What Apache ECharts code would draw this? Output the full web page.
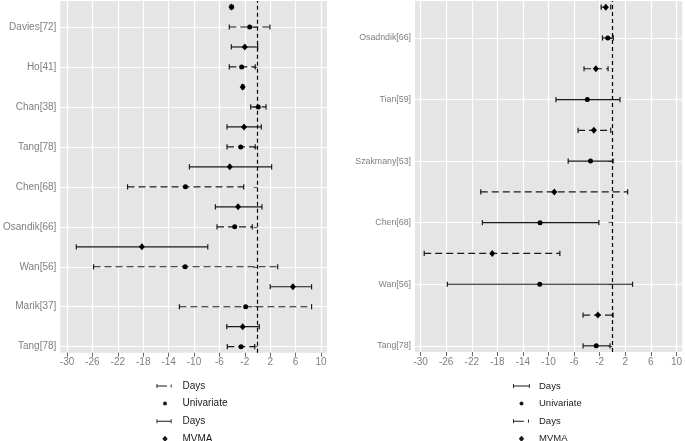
<!DOCTYPE html>
<html><head><meta charset="utf-8">
<script src="https://cdn.jsdelivr.net/npm/echarts@6/dist/echarts.min.js"></script>
<style>html,body{margin:0;padding:0;background:#fff}#c{width:685px;height:441px}</style>
</head><body><div id="c"></div>
<script>
// ---------- data ----------
const xTicks = [-30, -26, -22, -18, -14, -10, -6, -2, 2, 6, 10];

// left panel, rows listed top to bottom
const leftLabels = ['', 'Davies[72]', '', 'Ho[41]', '', 'Chan[38]', '', 'Tang[78]', '', 'Chen[68]', '', 'Osandik[66]', '', 'Wan[56]', '', 'Marik[37]', '', 'Tang[78]'];
const leftMethod = ['MVMA', 'Univariate', 'MVMA', 'Univariate', 'MVMA', 'Univariate', 'MVMA', 'Univariate', 'MVMA', 'Univariate', 'MVMA', 'Univariate', 'MVMA', 'Univariate', 'MVMA', 'Univariate', 'MVMA', 'Univariate'];
const leftEst  = [-4.1, -1.23, -2.0, -2.49, -2.33, 0.13, -2.12, -2.64, -4.37, -11.35, -3.06, -3.59, -18.21, -11.4, 5.58, -1.86, -2.33, -2.59];
const leftLow  = [-4.3, -4.44, -4.12, -4.44, -2.5, -1.07, -4.8, -4.8, -10.72, -20.47, -6.63, -6.37, -28.54, -25.82, 2.01, -12.3, -4.84, -4.75];
const leftHigh = [-3.85, 1.96, 0.03, -0.35, -2.15, 1.34, 0.6, -0.35, 2.23, -2.17, 0.71, -0.82, -7.83, 3.18, 8.52, 8.52, 0.28, -0.44];

// right panel, rows listed top to bottom
const rightLabels = ['', 'Osadndik[66]', '', 'Tian[59]', '', 'Szakmany[53]', '', 'Chen[68]', '', 'Wan[56]', '', 'Tang[78]'];
const rightMethod = ['MVMA', 'Univariate', 'MVMA', 'Univariate', 'MVMA', 'Univariate', 'MVMA', 'Univariate', 'MVMA', 'Univariate', 'MVMA', 'Univariate'];
const rightEst  = [-1.04, -0.74, -2.6, -3.94, -2.91, -3.43, -9.1, -11.32, -18.8, -11.37, -2.28, -2.54];
const rightLow  = [-1.77, -1.57, -4.45, -8.84, -5.38, -6.93, -20.6, -20.35, -29.44, -25.82, -4.6, -4.6];
const rightHigh = [-0.27, 0.13, -0.69, 1.17, -0.27, 0.09, 2.37, -2.13, -8.23, 3.14, 0.09, -0.38];

// ---------- helpers ----------
const FONT = 'Liberation Sans, Arial, Helvetica, sans-serif';
const INK = '#1a1a1a';

function rowsFor(labels, method, est, low, high, which) {
  const n = labels.length;
  const bars = [], pts = [];
  for (let i = 0; i < n; i++) {
    if (method[i] !== which) continue;
    const y = n - i;
    bars.push([low[i], high[i], y]);
    pts.push([est[i], y]);
  }
  return { bars, pts };
}
function labeledYs(labels) {
  const n = labels.length, out = [];
  labels.forEach((l, i) => { if (l) out.push(n - i); });
  return out;
}
function errRender(dash) {
  return function (params, api) {
    const y = api.value(2);
    const a = api.coord([api.value(0), y]);
    const b = api.coord([api.value(1), y]);
    const h = 2.6;
    const st = { stroke: INK, lineWidth: 1.2, fill: null };
    if (dash) st.lineDash = dash;
    return { type: 'group', children: [
      { type: 'line', shape: { x1: a[0], y1: a[1], x2: b[0], y2: b[1] }, style: st },
      { type: 'line', shape: { x1: a[0], y1: a[1] - h, x2: a[0], y2: a[1] + h }, style: { stroke: INK, lineWidth: 1.2 } },
      { type: 'line', shape: { x1: b[0], y1: b[1] - h, x2: b[0], y2: b[1] + h }, style: { stroke: INK, lineWidth: 1.2 } }
    ]};
  };
}
function xAxisCfg(idx, min, max) {
  return {
    type: 'value', gridIndex: idx, min: min, max: max,
    axisLine: { show: false },
    axisTick: { show: true, length: 4, customValues: xTicks, lineStyle: { color: '#666', width: 1 } },
    axisLabel: { customValues: xTicks, color: '#7f7f7f', fontSize: 10, margin: 5, fontFamily: FONT },
    splitLine: { show: true, lineStyle: { color: '#ffffff', width: 1.2 } }
  };
}
function yAxisCfg(idx, labels, min, max, fs) {
  const n = labels.length;
  const ys = labeledYs(labels);
  return {
    type: 'value', gridIndex: idx, min: min, max: max,
    axisLine: { show: false },
    axisTick: { show: true, length: 4, customValues: ys, lineStyle: { color: '#666', width: 1 } },
    axisLabel: { customValues: ys, color: '#7f7f7f', fontSize: fs, margin: 4, fontFamily: FONT,
      formatter: v => labels[n - Math.round(v)] || '' },
    splitLine: { show: true, lineStyle: { color: '#ffffff', width: 1.2 } }
  };
}
const zeroLine = {
  silent: true, symbol: ['none', 'none'], label: { show: false },
  lineStyle: { color: '#000', type: [4, 3], width: 1.2 },
  emphasis: { disabled: true },
  data: [{ xAxis: 0 }], z: 10
};

const L_uni = rowsFor(leftLabels, leftMethod, leftEst, leftLow, leftHigh, 'Univariate');
const L_mv  = rowsFor(leftLabels, leftMethod, leftEst, leftLow, leftHigh, 'MVMA');
const R_uni = rowsFor(rightLabels, rightMethod, rightEst, rightLow, rightHigh, 'Univariate');
const R_mv  = rowsFor(rightLabels, rightMethod, rightEst, rightLow, rightHigh, 'MVMA');

const DASH = [7, 4];

// legend icons (21x10 box, spacer points at the corners)
const icDashL  = 'path://M0,0M21,10M0,3h0.9v1.5h9.6v1h-9.6v1.5h-0.9zM14.2,3.4h0.9v3.2h-0.9z';
const icSolidL = 'path://M0,0M21,10M0,3h0.9v1.5h13.3v-1.5h0.9v4h-0.9v-1.5h-13.3v1.5h-0.9z';
const icSolidR = 'path://M0,0M21,10M0,3h0.9v1.5h15v-1.5h0.9v4h-0.9v-1.5h-15v1.5h-0.9z';
const icDashR  = 'path://M0,0M21,10M0,3h0.9v1.5h10v1h-10v1.5h-0.9zM15,3.4h0.9v3.2h-0.9z';
const icCirc   = 'path://M0,0M21,10M6.5,5a2,2 0 1,0 4,0a2,2 0 1,0 -4,0z';
const icDiam   = 'path://M0,0M21,10M8.5,1.9L11.2,5L8.5,8.1L5.8,5z';

function errSeries(name, gi, data, dash) {
  return { type: 'custom', name: name, xAxisIndex: gi, yAxisIndex: gi, silent: true,
    renderItem: errRender(dash), encode: { x: [0, 1], y: 2 }, data: data,
    itemStyle: { color: INK }, z: 2 };
}
function ptSeries(name, gi, data, symbol, size, mark) {
  const s = { type: 'scatter', name: name, xAxisIndex: gi, yAxisIndex: gi, silent: true,
    symbol: symbol, symbolSize: size, data: data,
    itemStyle: { color: '#000', opacity: 1 }, z: 4 };
  if (mark) s.markLine = zeroLine;
  return s;
}
const legendBase = {
  orient: 'vertical', top: 381, height: 80, itemWidth: 21, itemHeight: 10, itemGap: 7.6,
  selectedMode: false, padding: 0,
  textStyle: { fontSize: 10, color: INK, fontFamily: FONT, lineHeight: 10 },
  itemStyle: { color: INK, borderWidth: 0 }
};

const chart = echarts.init(document.getElementById('c'), null, { renderer: 'canvas' });
chart.setOption({
  animation: false,
  backgroundColor: '#ffffff',
  grid: [
    { left: 60, top: 1, width: 267, height: 351.7, show: true, backgroundColor: '#E5E5E5', borderWidth: 0 },
    { left: 415, top: 1, width: 270, height: 351, show: true, backgroundColor: '#E5E5E5', borderWidth: 0 }
  ],
  xAxis: [xAxisCfg(0, -31.05, 10.95), xAxisCfg(1, -30.88, 10.92)],
  yAxis: [yAxisCfg(0, leftLabels, 0.7, 18.3, 10), yAxisCfg(1, rightLabels, 0.8, 12.2, 8.8)],
  legend: [
    Object.assign({}, legendBase, { left: 156.5, data: [
      { name: 'Days', icon: icDashL }, { name: 'Univariate', icon: icCirc },
      { name: 'Days ', icon: icSolidL }, { name: 'MVMA', icon: icDiam }] }),
    Object.assign({}, legendBase, { left: 513, textStyle: Object.assign({}, legendBase.textStyle, { fontSize: 9.5 }), data: [
      { name: 'Days  ', icon: icSolidR }, { name: 'Univariate', icon: icCirc },
      { name: 'Days   ', icon: icDashR }, { name: 'MVMA', icon: icDiam }] })
  ],
  series: [
    errSeries('Days', 0, L_uni.bars, DASH),
    errSeries('Days ', 0, L_mv.bars, null),
    ptSeries('Univariate', 0, L_uni.pts, 'circle', 5, true),
    ptSeries('MVMA', 0, L_mv.pts, 'diamond', [6, 7], false),
    errSeries('Days  ', 1, R_uni.bars, null),
    errSeries('Days   ', 1, R_mv.bars, DASH),
    ptSeries('Univariate', 1, R_uni.pts, 'circle', 5, true),
    ptSeries('MVMA', 1, R_mv.pts, 'diamond', [6, 7], false)
  ]
});
</script>
</body></html>
